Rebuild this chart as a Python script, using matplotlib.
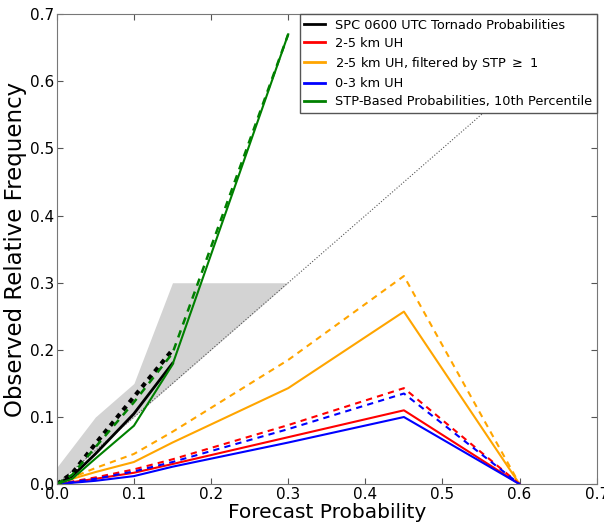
import numpy as np
import matplotlib
matplotlib.use("Agg")
import matplotlib.pyplot as plt

# forecast probability bins
spc_x = [0.0, 0.02, 0.05, 0.10, 0.15]
stp_x = [0.0, 0.02, 0.05, 0.10, 0.15, 0.30]
uh_x = [0.0, 0.02, 0.05, 0.10, 0.15, 0.30, 0.45, 0.60]

# consistency band for SPC probabilities
band_x = [0.0, 0.02, 0.05, 0.10, 0.15, 0.30]
band_hi = [0.025, 0.055, 0.10, 0.15, 0.30, 0.30]

# observed relative frequency (solid / dashed)
spc_solid = [0.0, 0.012, 0.045, 0.105, 0.18]
spc_dash = [0.0, 0.016, 0.06, 0.13, 0.20]
stp_solid = [0.0, 0.008, 0.038, 0.087, 0.178, 0.67]
stp_dash = [0.0, 0.014, 0.055, 0.122, 0.195, 0.67]
uh25_solid = [0.0, 0.003, 0.008, 0.017, 0.03, 0.07, 0.11, 0.0]
uh25_dash = [0.0, 0.004, 0.01, 0.022, 0.037, 0.088, 0.143, 0.0]
uh25stp_solid = [0.0, 0.008, 0.018, 0.033, 0.062, 0.143, 0.257, 0.0]
uh25stp_dash = [0.0, 0.01, 0.024, 0.045, 0.078, 0.185, 0.31, 0.0]
uh03_solid = [0.0, 0.002, 0.005, 0.012, 0.026, 0.062, 0.10, 0.0]
uh03_dash = [0.0, 0.003, 0.008, 0.019, 0.033, 0.082, 0.135, 0.0]

labels = ["SPC 0600 UTC Tornado Probabilities", "2-5 km UH",
          r"2-5 km UH, filtered by STP $\geq$ 1", "0-3 km UH",
          "STP-Based Probabilities, 10th Percentile"]

fig = plt.figure(figsize=(6.04, 5.24), dpi=100)
ax = fig.add_axes([0.094, 0.076, 0.894, 0.897])

ax.fill_between(band_x, band_x, band_hi, color="#d3d3d3", lw=0, zorder=1)
ax.plot([0, 0.7], [0, 0.7], color="#555555", ls=":", lw=0.8, zorder=2)

dash = (0, (3, 2.5))
ax.plot(uh_x, uh25stp_dash, color="orange", lw=1.5, ls=dash)
ax.plot(uh_x, uh25stp_solid, color="orange", lw=1.5)
ax.plot(uh_x, uh25_dash, color="red", lw=1.5, ls=dash)
ax.plot(uh_x, uh25_solid, color="red", lw=1.5)
ax.plot(uh_x, uh03_dash, color="blue", lw=1.5, ls=dash)
ax.plot(uh_x, uh03_solid, color="blue", lw=1.5)
ax.plot(spc_x, spc_dash, color="black", lw=3, ls=(0, (1.2, 1.2)))
ax.plot(spc_x, spc_solid, color="black", lw=2)
ax.plot(stp_x, stp_dash, color="green", lw=1.8, ls=dash)
ax.plot(stp_x, stp_solid, color="green", lw=1.5)

handles = [plt.Line2D([], [], color=c, lw=2)
           for c in ["black", "red", "orange", "blue", "green"]]
leg = ax.legend(handles, labels, loc="upper right", fontsize=9.3,
                borderaxespad=0, fancybox=False, framealpha=1,
                handlelength=1.6, borderpad=0.35, labelspacing=0.4)
leg.get_frame().set_edgecolor("#555555")

ax.set_xlim(0, 0.7)
ax.set_ylim(0, 0.7)
ticks = np.arange(0, 0.71, 0.1)
ax.set_xticks(ticks)
ax.set_yticks(ticks)
ax.tick_params(direction="in", top=True, right=True, labelsize=11,
               color="#555555", length=4, pad=2)
for s in ax.spines.values():
    s.set_color("#777777")
ax.set_xlabel("Forecast Probability", fontsize=14.5, labelpad=1)
ax.set_ylabel("Observed Relative Frequency", fontsize=16.5, labelpad=2)

fig.savefig("out.png", dpi=100)
